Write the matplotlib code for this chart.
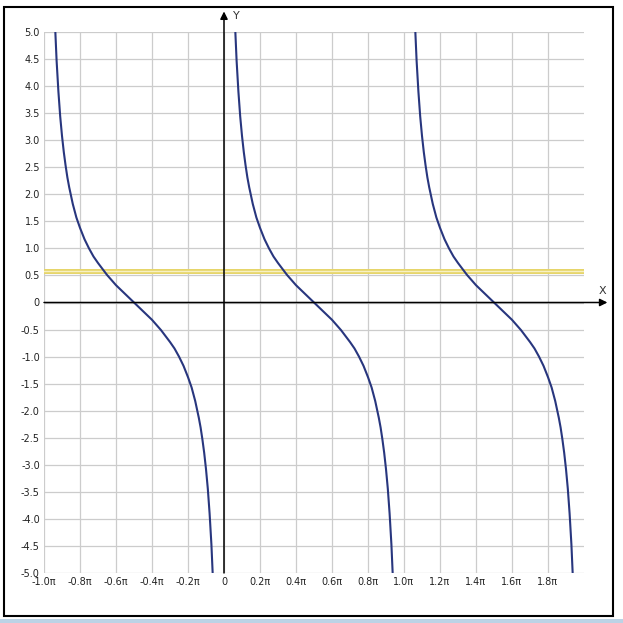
import matplotlib.pyplot as plt
from matplotlib.patches import Rectangle
import numpy as np

# one branch of the curve (x in units of pi)
branch_x = [0.063, 0.07, 0.08, 0.09, 0.10, 0.11, 0.12, 0.13, 0.14, 0.16, 0.18, 0.20,
            0.225, 0.25, 0.275, 0.30, 0.35, 0.40, 0.45, 0.50, 0.55, 0.60, 0.65,
            0.70, 0.725, 0.75, 0.775, 0.80, 0.82, 0.84, 0.86, 0.87, 0.88, 0.89,
            0.90, 0.91, 0.92, 0.93, 0.937]
branch_y = [5.0, 4.47, 3.90, 3.44, 3.08, 2.78, 2.53, 2.31, 2.13, 1.82, 1.57, 1.38,
            1.17, 1.0, 0.85, 0.73, 0.51, 0.32, 0.16, 0.0, -0.16, -0.32, -0.51,
            -0.73, -0.85, -1.0, -1.17, -1.38, -1.57, -1.82, -2.13, -2.31, -2.53, -2.78,
            -3.08, -3.44, -3.90, -4.47, -5.0]
branch_offsets = [-1, 0, 1]
level_y = 0.577

x_ticks = [-1.0, -0.8, -0.6, -0.4, -0.2, 0, 0.2, 0.4, 0.6, 0.8, 1.0, 1.2, 1.4, 1.6, 1.8]
x_labels = ["-1.0π", "-0.8π", "-0.6π", "-0.4π", "-0.2π", "0", "0.2π", "0.4π",
            "0.6π", "0.8π", "1.0π", "1.2π", "1.4π", "1.6π", "1.8π"]
y_ticks = [5.0, 4.5, 4.0, 3.5, 3.0, 2.5, 2.0, 1.5, 1.0, 0.5, 0, -0.5, -1.0, -1.5,
           -2.0, -2.5, -3.0, -3.5, -4.0, -4.5, -5.0]
y_labels = ["5.0", "4.5", "4.0", "3.5", "3.0", "2.5", "2.0", "1.5", "1.0", "0.5", "0",
            "-0.5", "-1.0", "-1.5", "-2.0", "-2.5", "-3.0", "-3.5", "-4.0", "-4.5", "-5.0"]

W = H = 623
fig = plt.figure(figsize=(W / 100, H / 100), dpi=100)
fig.patch.set_facecolor("white")

# outer frame and bottom strip
fig.add_artist(Rectangle((4 / W, 1 - 616 / H), 609 / W, 609 / H, transform=fig.transFigure,
                         fill=False, edgecolor="black", linewidth=1.5))
fig.add_artist(Rectangle((0, 0), 1, 4 / H, transform=fig.transFigure,
                         facecolor="#bcd3e6", edgecolor="none"))

ax = fig.add_axes([44 / W, 1 - 573 / H, 540 / W, 541 / H])
ax.set_xlim(-1.0, 2.0)
ax.set_ylim(-5.0, 5.0)

# grid
for gx in x_ticks:
    ax.axvline(gx, color="#cccccc", linewidth=0.9, zorder=1)
for gy in y_ticks:
    ax.axhline(gy, color="#cccccc", linewidth=0.9, zorder=1)

for s in ax.spines.values():
    s.set_visible(False)
ax.tick_params(length=0, labelsize=7, labelcolor="#222222", pad=3)
ax.set_xticks(x_ticks)
ax.set_xticklabels(x_labels)
ax.set_yticks(y_ticks)
ax.set_yticklabels(y_labels)

# axes with arrows
ax.annotate("", xy=(2.13, 0), xytext=(-1.0, 0),
            arrowprops=dict(arrowstyle="-|>", color="black", lw=1.1,
                            mutation_scale=11, shrinkA=0, shrinkB=0),
            annotation_clip=False, zorder=4)
ax.annotate("", xy=(0, 5.38), xytext=(0, -5.0),
            arrowprops=dict(arrowstyle="-|>", color="black", lw=1.1,
                            mutation_scale=11, shrinkA=0, shrinkB=0),
            annotation_clip=False, zorder=4)
ax.text(2.105, 0.12, "X", fontsize=8, color="#333333", ha="center", va="bottom", clip_on=False)
ax.text(0.07, 5.3, "Y", fontsize=8, color="#333333", ha="center", va="center", clip_on=False)

# yellow level line
ax.axhline(level_y, color="#e6d56a", linewidth=3.6, zorder=2)
ax.axhline(level_y, color="#f7f0c4", linewidth=1.0, zorder=2)

# curve branches
for off in branch_offsets:
    ax.plot([off + v for v in branch_x], branch_y, color="#28367e",
            linewidth=1.5, zorder=3, solid_capstyle="butt")

fig.savefig("out.png", dpi=100)
